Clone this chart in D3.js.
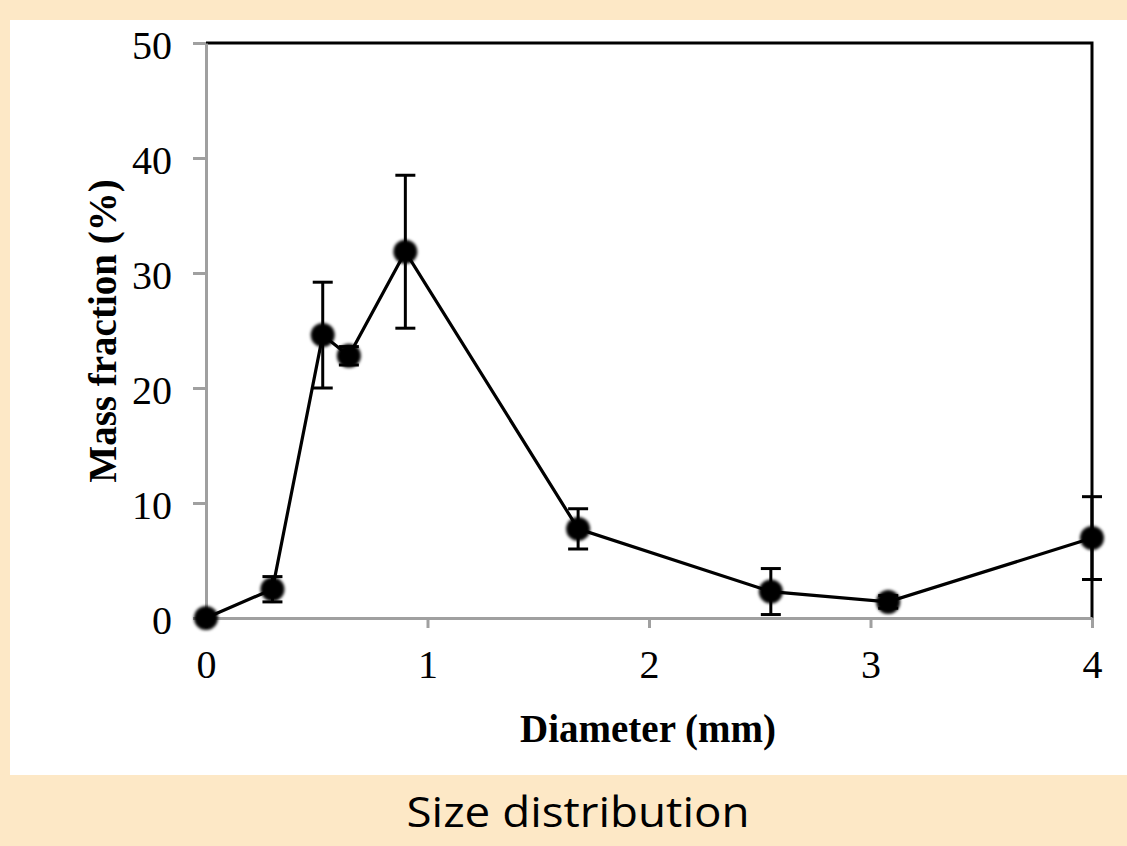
<!DOCTYPE html>
<html>
<head>
<meta charset="utf-8">
<script src="https://cdn.jsdelivr.net/npm/d3@7"></script>
<style>
  html, body { margin: 0; padding: 0; background: #fde8c6; }
  svg { display: block; }
</style>
</head>
<body>
<svg id="chart"></svg>
<script>
// values
const diameters = [0, 0.30, 0.527, 0.645, 0.90, 1.68, 2.55, 3.08, 4.0];
const massFraction = [0, 2.5, 24.6, 22.8, 31.85, 7.75, 2.3, 1.4, 6.95];
const errors = [0, 1.1, 4.6, 0.8, 6.65, 1.75, 2.0, 0.55, 3.6];
const xTicks = [0, 1, 2, 3, 4];
const yTicks = [0, 10, 20, 30, 40, 50];

const width = 1127, height = 846;
const plotLeft = 206, plotRight = 1092, plotTop = 43, plotBottom = 618;

const svg = d3.select("#chart")
    .attr("width", width)
    .attr("height", height);

// peach background with white panel
svg.append("rect").attr("width", width).attr("height", height).attr("fill", "#fde8c6");
svg.append("rect").attr("x", 10).attr("y", 20).attr("width", width - 10).attr("height", 755).attr("fill", "#fff");

const x = d3.scaleLinear().domain([0, 4]).range([plotLeft, plotRight]);
const y = d3.scaleLinear().domain([0, 50]).range([plotBottom, plotTop]);

const defs = svg.append("defs");
defs.append("filter").attr("id", "soft")
    .attr("x", "-50%").attr("y", "-50%").attr("width", "200%").attr("height", "200%")
    .append("feGaussianBlur").attr("stdDeviation", 1.6);

// top and right frame
svg.append("path")
    .attr("d", `M${plotLeft},${plotTop}H${plotRight}V${plotBottom}`)
    .attr("fill", "none").attr("stroke", "#000").attr("stroke-width", 3);

// y axis
const yAxis = svg.append("g")
    .attr("transform", `translate(${plotLeft},0)`)
    .call(d3.axisLeft(y).tickValues(yTicks).tickFormat(d3.format("d"))
        .tickSize(13).tickSizeOuter(0).tickPadding(21));
yAxis.select(".domain").attr("stroke", "#a0a0a0").attr("stroke-width", 3);
yAxis.selectAll(".tick line").attr("stroke", "#a0a0a0").attr("stroke-width", 3);
yAxis.selectAll(".tick text")
    .attr("font-family", "'Liberation Serif', 'Times New Roman', serif")
    .attr("font-size", 40).attr("fill", "#000").attr("dy", "0.38em");

// x axis
const xAxis = svg.append("g")
    .attr("transform", `translate(0,${plotBottom})`)
    .call(d3.axisBottom(x).tickValues(xTicks).tickFormat(d3.format("d"))
        .tickSize(10).tickSizeOuter(0).tickPadding(22));
xAxis.select(".domain").attr("stroke", "#a0a0a0").attr("stroke-width", 3);
xAxis.selectAll(".tick line").attr("stroke", "#a0a0a0").attr("stroke-width", 3);
xAxis.selectAll(".tick text")
    .attr("font-family", "'Liberation Serif', 'Times New Roman', serif")
    .attr("font-size", 40).attr("fill", "#000");

// axis titles
svg.append("text")
    .attr("x", 648).attr("y", 742)
    .attr("text-anchor", "middle")
    .attr("font-family", "'Liberation Serif', 'Times New Roman', serif")
    .attr("font-weight", "bold").attr("font-size", 39)
    .text("Diameter (mm)");

svg.append("text")
    .attr("transform", "translate(116,331) rotate(-90)")
    .attr("text-anchor", "middle")
    .attr("font-family", "'Liberation Serif', 'Times New Roman', serif")
    .attr("font-weight", "bold").attr("font-size", 39)
    .text("Mass fraction (%)");

const data = diameters.map((d, i) => ({ x: d, y: massFraction[i], e: errors[i] }));

// connecting line
svg.append("path")
    .datum(data)
    .attr("fill", "none").attr("stroke", "#000").attr("stroke-width", 3.2)
    .attr("d", d3.line().x(d => x(d.x)).y(d => y(d.y)));

// error bars
const bars = svg.append("g").attr("stroke", "#000").attr("stroke-width", 3)
    .selectAll("g").data(data.filter(d => d.e > 0)).join("g");
bars.append("line")
    .attr("x1", d => x(d.x)).attr("x2", d => x(d.x))
    .attr("y1", d => y(d.y + d.e)).attr("y2", d => y(d.y - d.e));
bars.append("line")
    .attr("x1", d => x(d.x) - 10).attr("x2", d => x(d.x) + 10)
    .attr("y1", d => y(d.y + d.e)).attr("y2", d => y(d.y + d.e));
bars.append("line")
    .attr("x1", d => x(d.x) - 10).attr("x2", d => x(d.x) + 10)
    .attr("y1", d => y(d.y - d.e)).attr("y2", d => y(d.y - d.e));

// markers
svg.append("g").selectAll("circle").data(data).join("circle")
    .attr("cx", d => x(d.x)).attr("cy", d => y(d.y))
    .attr("r", 12).attr("fill", "#000")
    .attr("filter", "url(#soft)");

// caption
svg.append("text")
    .attr("x", 578).attr("y", 827)
    .attr("text-anchor", "middle")
    .attr("font-family", "'Open Sans', 'Noto Sans', sans-serif")
    .attr("font-size", 42).attr("fill", "#000")
    .attr("textLength", 343).attr("lengthAdjust", "spacingAndGlyphs")
    .text("Size distribution");
</script>
</body>
</html>
